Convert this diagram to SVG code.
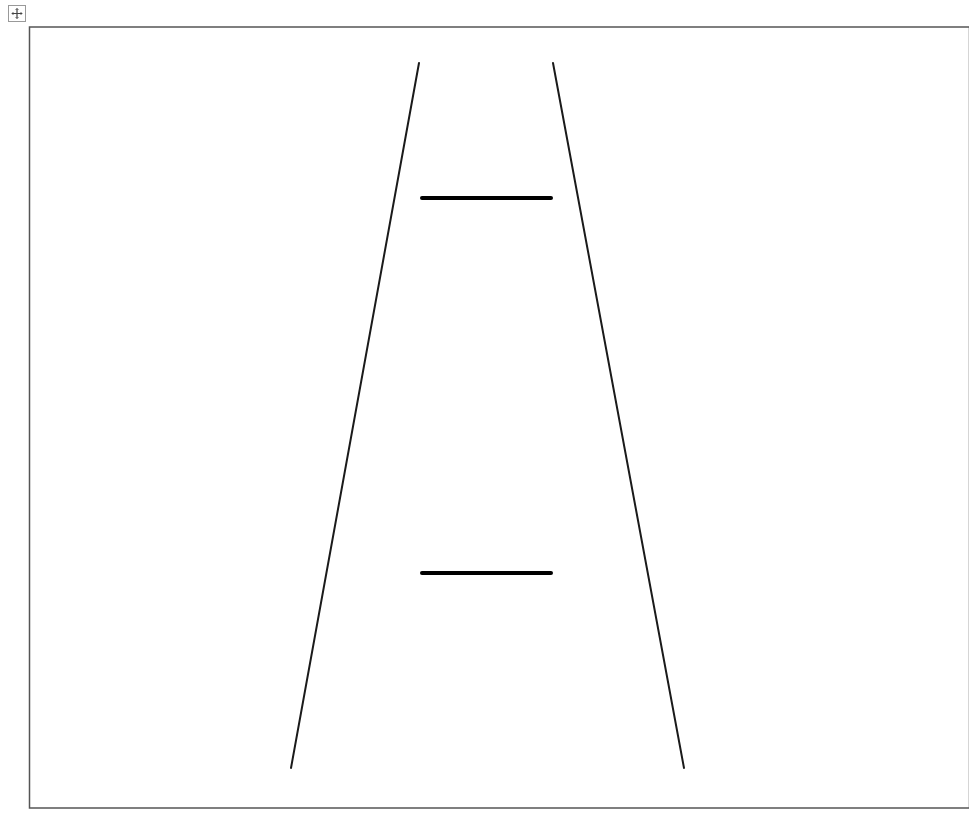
<svg xmlns="http://www.w3.org/2000/svg" width="969" height="821" viewBox="0 0 969 821">
<style>
.frame{fill:none;stroke:#555;stroke-width:1.5}
.side{stroke:#1a1a1a;stroke-width:2;stroke-linecap:round;fill:none}
.rung{stroke:#000;stroke-width:4;stroke-linecap:round;fill:none}
</style>
<rect width="969" height="821" fill="#fff"/>
<g id="handle">
<rect x="8.5" y="5.5" width="17" height="16" fill="#fff" stroke="#999" stroke-width="1"/>
<path d="M17 8.5v10M12 13.5h10" stroke="#444" stroke-width="1.2"/>
<path d="M15.5 10l1.5-1.5 1.5 1.5M15.5 17l1.5 1.5 1.5-1.5M13.5 12l-1.5 1.5 1.5 1.5M20.5 12l1.5 1.5-1.5 1.5" stroke="#444" stroke-width="0.8" fill="none"/>
</g>
<rect id="frame" class="frame" x="29.5" y="27" width="940" height="781"/>
<g id="ladder">
<line class="side" x1="419" y1="63" x2="291" y2="768"/>
<line class="side" x1="553" y1="63" x2="684" y2="768"/>
<line class="rung" x1="422" y1="198" x2="551" y2="198"/>
<line class="rung" x1="422" y1="573" x2="551" y2="573"/>
</g>
</svg>
